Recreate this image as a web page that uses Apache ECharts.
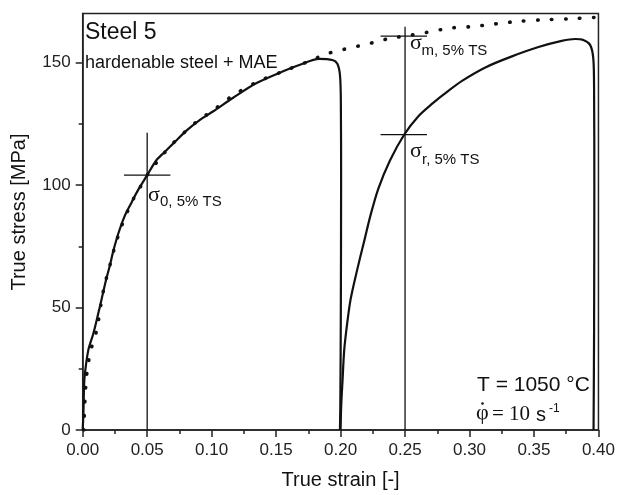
<!DOCTYPE html>
<html>
<head>
<meta charset="utf-8">
<script src="https://cdn.jsdelivr.net/npm/echarts@6.0.0/dist/echarts.min.js"></script>
<style>
  html, body { margin: 0; padding: 0; background: #fff; }
  #chart { width: 618px; height: 495px; }
</style>
</head>
<body>
<div id="chart"></div>
<script>
// first compression (solid)
const strain1 = [0, 0.0005, 0.0008, 0.001, 0.0015, 0.0043, 0.0082, 0.012, 0.0147, 0.018, 0.021, 0.0237, 0.0275, 0.0327, 0.038, 0.043, 0.05, 0.057, 0.0636, 0.0713, 0.080, 0.0907, 0.101, 0.1164, 0.1345, 0.155, 0.168, 0.1835, 0.1937, 0.1975, 0.1995, 0.2002, 0.2004, 0.2002, 0.1998, 0.1995];
const stress1 = [0, 6, 12, 17, 22, 32.5, 39.3, 47.4, 53.5, 61, 67, 73, 80, 87.5, 93, 98, 104, 110, 113.5, 117.5, 122, 126.5, 130, 135.5, 141.5, 146.3, 149, 151.5, 151, 149.5, 145, 135, 100, 50, 10, 0];

// second compression (solid)
const strain2 = [0.2, 0.2005, 0.2015, 0.2028, 0.205, 0.2075, 0.2105, 0.2152, 0.2185, 0.2229, 0.2293, 0.2383, 0.2494, 0.2602, 0.2718, 0.280, 0.2942, 0.3123, 0.3329, 0.3535, 0.3715, 0.3819, 0.3883, 0.3935, 0.396, 0.3966, 0.3968, 0.3966, 0.3962];
const stress2 = [0, 10, 20, 32.5, 43, 52.5, 60, 70.5, 77.5, 87, 98.5, 110, 120.6, 128, 133.5, 137, 142.5, 148, 152.5, 156.3, 158.8, 159.6, 159.2, 157.2, 151.7, 139.5, 100, 40, 0];

// fitted flow curve (dotted)
const strainFit = [0.0008, 0.001, 0.0012, 0.0018, 0.0026, 0.0039, 0.0064, 0.0108, 0.0147, 0.0172, 0.021, 0.025, 0.03, 0.035, 0.04, 0.045, 0.05, 0.06, 0.07, 0.08, 0.09, 0.1, 0.115, 0.135, 0.155, 0.173, 0.182, 0.191, 0.2028, 0.2144, 0.226, 0.2362, 0.2556, 0.267, 0.2788, 0.2878, 0.3007, 0.3148, 0.324, 0.3355, 0.356, 0.3767, 0.397, 0.4];
const stressFit = [0, 1.3, 5.4, 12.9, 19.6, 26, 32.8, 40.7, 53.1, 59.6, 67, 75, 83, 89.5, 95, 99.5, 104, 111, 117, 122, 126.5, 130, 136, 142, 146.3, 150, 152, 153.8, 155.4, 156.8, 158.2, 159.6, 161.3, 162.3, 163.5, 164.2, 164.6, 165.4, 166, 166.7, 167.4, 167.8, 168.4, 168.5];

// marker lines (sigma_0 at 0.05, sigma_m / sigma_r at 0.25)
const sigma0V = [[0.05, 0], [0.05, 121.3]];
const sigma0H = [[0.032, 104], [0.068, 104]];
const sigmaV = [[0.25, 0], [0.25, 164.6]];
const sigmaMH = [[0.231, 160.8], [0.267, 160.8]];
const sigmaRH = [[0.231, 120.6], [0.267, 120.6]];

// ticks
const yMajor = [0, 50, 100, 150];
const yMinor = [25, 75, 125];

const toPairs = (xs, ys) => xs.map((x, i) => [x, ys[i]]);

const FONT = 'Liberation Sans';
const SERIF = 'Liberation Serif';
const INK = '#111';

let chart = echarts.init(document.getElementById('chart'));

// line series helper
function solid(data, width, smooth) {
  return {
    type: 'line',
    data,
    symbol: 'none',
    silent: true,
    animation: false,
    smooth: smooth || false,
    lineStyle: { color: INK, width: width }
  };
}

let option = {
  backgroundColor: '#fff',
  grid: {
    left: 82.7, right: 18, top: 13.5, bottom: 64.7,
    show: true, borderColor: '#222', borderWidth: 1.5
  },
  xAxis: {
    type: 'value',
    min: 0, max: 0.4, interval: 0.05,
    axisLine: { onZero: false, lineStyle: { color: '#222', width: 1.5 } },
    axisTick: { length: 7, lineStyle: { color: '#222', width: 1.5 } },
    minorTick: { show: true, splitNumber: 2, length: 4, lineStyle: { color: '#222', width: 1.5 } },
    splitLine: { show: false },
    axisLabel: { fontSize: 17, fontFamily: FONT, color: '#222', margin: 12, formatter: v => v.toFixed(2) },
    name: 'True strain [-]',
    nameLocation: 'middle',
    nameGap: 40,
    nameTextStyle: { fontSize: 20, fontFamily: FONT, color: INK }
  },
  yAxis: [
    {
      type: 'value',
      min: 0, max: 170, interval: 50,
      axisLine: { show: true, onZero: false, lineStyle: { color: '#222', width: 1.5 } },
      axisTick: { show: true, length: 7, customValues: yMajor, lineStyle: { color: '#222', width: 1.5 } },
      splitLine: { show: false },
      axisLabel: { fontSize: 17, fontFamily: FONT, color: '#222', margin: 12, customValues: yMajor }
    },
    {
      type: 'value',
      position: 'left',
      min: 0, max: 170,
      axisLine: { show: false },
      axisTick: { show: true, length: 4, customValues: yMinor, lineStyle: { color: '#222', width: 1.5 } },
      splitLine: { show: false },
      axisLabel: { show: false }
    }
  ],
  series: [
    {
      type: 'line',
      data: toPairs(strainFit, stressFit),
      symbol: 'none',
      silent: true,
      animation: false,
      smooth: 0.3,
      lineStyle: { color: INK, width: 3.6, type: [0.5, 13.5], cap: 'round' }
    },
    solid(toPairs(strain1, stress1), 2.2, 0.3),
    solid(toPairs(strain2, stress2), 2.2, 0.3),
    solid(sigma0V, 1.3),
    solid(sigma0H, 1.3),
    solid(sigmaV, 1.3),
    solid(sigmaMH, 1.3),
    solid(sigmaRH, 1.3)
  ],
  graphic: [
    { type: 'text', x: 19, y: 212, rotation: Math.PI / 2,
      style: { text: 'True stress [MPa]', fontSize: 20, fontFamily: FONT, fill: INK, align: 'center', verticalAlign: 'middle' } },
    { type: 'text', x: 85, y: 33,
      style: { text: 'Steel 5', fontSize: 23, fontFamily: FONT, fill: INK, verticalAlign: 'middle' } },
    { type: 'text', x: 85, y: 63,
      style: { text: 'hardenable steel + MAE', fontSize: 18, fontFamily: FONT, fill: INK, verticalAlign: 'middle' } },
    { type: 'text', x: 477, y: 385,
      style: { text: 'T = 1050 °C', fontSize: 21, fontFamily: FONT, fill: INK, verticalAlign: 'middle' } },

    // phi-dot = 10 s^-1
    { type: 'text', x: 476, y: 413,
      style: { text: 'φ', fontSize: 22, fontFamily: SERIF, fill: INK, verticalAlign: 'middle' } },
    { type: 'circle', shape: { cx: 482.5, cy: 403.5, r: 1.3 }, style: { fill: INK } },
    { type: 'text', x: 492, y: 414,
      style: { text: '= 10', fontSize: 21, fontFamily: SERIF, fill: INK, verticalAlign: 'middle' } },
    { type: 'text', x: 536, y: 415,
      style: { text: 's', fontSize: 20, fontFamily: FONT, fill: INK, verticalAlign: 'middle' } },
    { type: 'text', x: 549, y: 409,
      style: { text: '-1', fontSize: 12, fontFamily: FONT, fill: INK, verticalAlign: 'middle' } },

    // sigma labels
    { type: 'text', x: 148, y: 195,
      style: { text: 'σ', fontSize: 22, fontFamily: SERIF, fill: INK, verticalAlign: 'middle' } },
    { type: 'text', x: 160, y: 202,
      style: { text: '0, 5% TS', fontSize: 15, fontFamily: FONT, fill: INK, verticalAlign: 'middle' } },
    { type: 'text', x: 410, y: 43.5,
      style: { text: 'σ', fontSize: 22, fontFamily: SERIF, fill: INK, verticalAlign: 'middle' } },
    { type: 'text', x: 421.5, y: 50.5,
      style: { text: 'm, 5% TS', fontSize: 15, fontFamily: FONT, fill: INK, verticalAlign: 'middle' } },
    { type: 'text', x: 410, y: 151.5,
      style: { text: 'σ', fontSize: 22, fontFamily: SERIF, fill: INK, verticalAlign: 'middle' } },
    { type: 'text', x: 422, y: 159.5,
      style: { text: 'r, 5% TS', fontSize: 15, fontFamily: FONT, fill: INK, verticalAlign: 'middle' } }
  ]
};

chart.setOption(option);
</script>
</body>
</html>
